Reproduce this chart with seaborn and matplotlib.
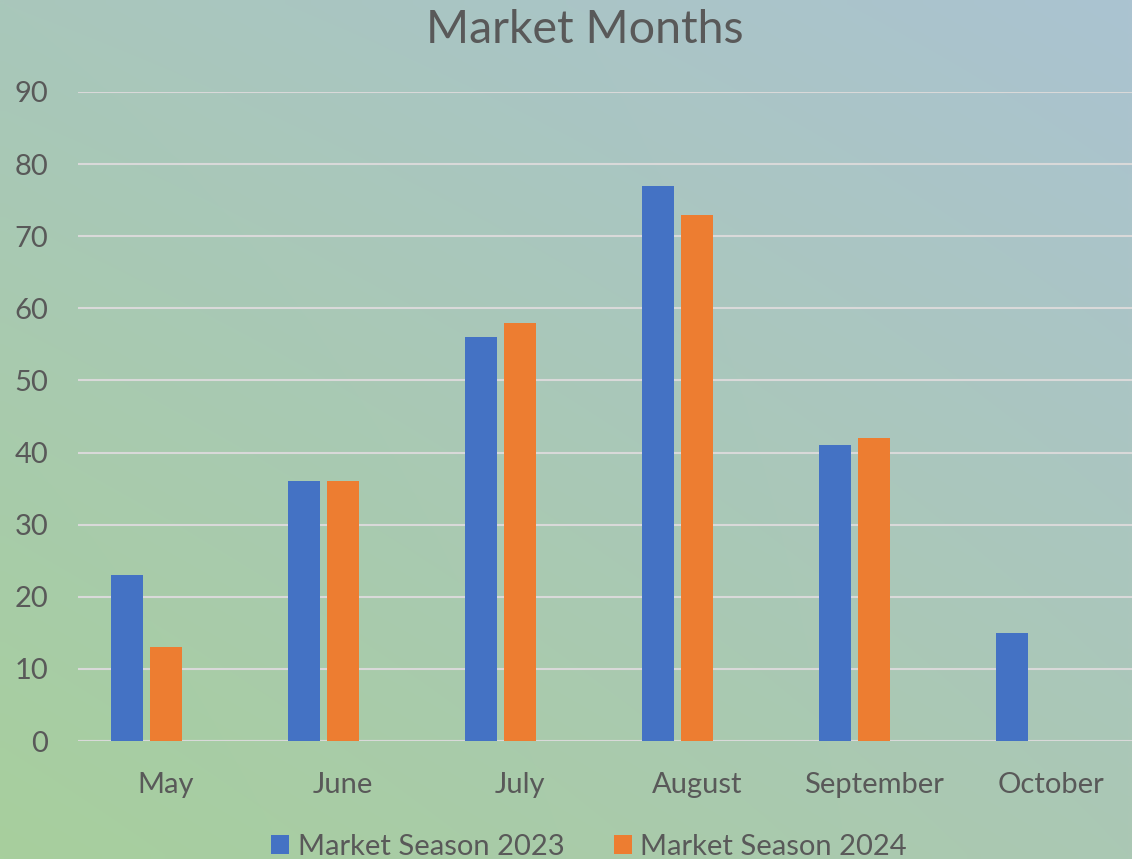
import numpy as np
import pandas as pd
import matplotlib
matplotlib.use("Agg")
import matplotlib.pyplot as plt
from matplotlib.patches import Patch
import seaborn as sns

months = ["May", "June", "July", "August", "September", "October"]
season_2023 = [23, 36, 56, 77, 41, 15]
season_2024 = [13, 36, 58, 73, 42, np.nan]
season_hidden = [np.nan] * 6  # empty third series (keeps Excel-like offset)
series_names = ["Market Season 2023", "Market Season 2024", "Hidden"]
yticks = [0, 10, 20, 30, 40, 50, 60, 70, 80, 90]

df = pd.DataFrame({
    "Month": months * 3,
    "Value": season_2023 + season_2024 + season_hidden,
    "Series": [series_names[0]] * 6 + [series_names[1]] * 6 + [series_names[2]] * 6,
})

sns.set_theme(style="white")
plt.rcParams["font.family"] = ["Lato", "DejaVu Sans"]

W, H = 1132, 859
fig = plt.figure(figsize=(W / 100, H / 100), dpi=100)

# gradient background
bg = fig.add_axes([0, 0, 1, 1], zorder=-10)
tl = np.array([169, 199, 187]) / 255
tr = np.array([171, 195, 209]) / 255
bl = np.array([167, 207, 157]) / 255
br = np.array([171, 200, 180]) / 255
ny, nx = 100, 130
u = np.linspace(0, 1, nx)[None, :, None]
v = np.linspace(0, 1, ny)[:, None, None]
img = (1 - v) * ((1 - u) * tl + u * tr) + v * ((1 - u) * bl + u * br)
bg.imshow(img, aspect="auto", extent=[0, 1, 0, 1], interpolation="bilinear")
bg.set_axis_off()

left = 77.5 / W
width = 1062 / W
bottom = (H - 741) / H
top = (H - 92) / H
ax = fig.add_axes([left, bottom, width, top - bottom])
ax.patch.set_alpha(0)

palette = {series_names[0]: "#4472C4", series_names[1]: "#ED7D31", series_names[2]: "#A5A5A5"}
sns.barplot(data=df, x="Month", y="Value", hue="Series", hue_order=series_names,
            order=months, palette=palette, width=0.669, gap=0.19,
            errorbar=None, linewidth=0, saturation=1, ax=ax, legend=False)

ax.set_ylim(0, 90)
ax.set_xlim(-0.5, 5.5)
ax.set_yticks(yticks)
ax.yaxis.grid(True, color="#D9D9D9", linewidth=1.5)
ax.set_axisbelow(True)
for s in ax.spines.values():
    s.set_visible(False)
ax.axhline(0, color="#D9D9D9", linewidth=1.5, zorder=0.5)
ax.set_xlabel("")
ax.set_ylabel("")
ax.tick_params(axis="y", length=0, pad=21, labelsize=21, labelcolor="#595959")
ax.tick_params(axis="x", length=0, pad=22.5, labelsize=21, labelcolor="#595959")

fig.text(585 / W, 1 - 30 / H, "Market Months", ha="center", va="center",
         fontsize=33.5, color="#595959")

handles = [Patch(facecolor=palette[series_names[0]], edgecolor="none"),
           Patch(facecolor=palette[series_names[1]], edgecolor="none")]
fig.legend(handles, series_names[:2], loc="center", bbox_to_anchor=(589 / W, 1 - 847 / H),
           ncol=2, frameon=False, fontsize=21, labelcolor="#595959",
           handlelength=0.62, handleheight=0.62, handletextpad=0.28, columnspacing=1.7,
           borderaxespad=0, borderpad=0)

fig.savefig("out.png", dpi=100)
